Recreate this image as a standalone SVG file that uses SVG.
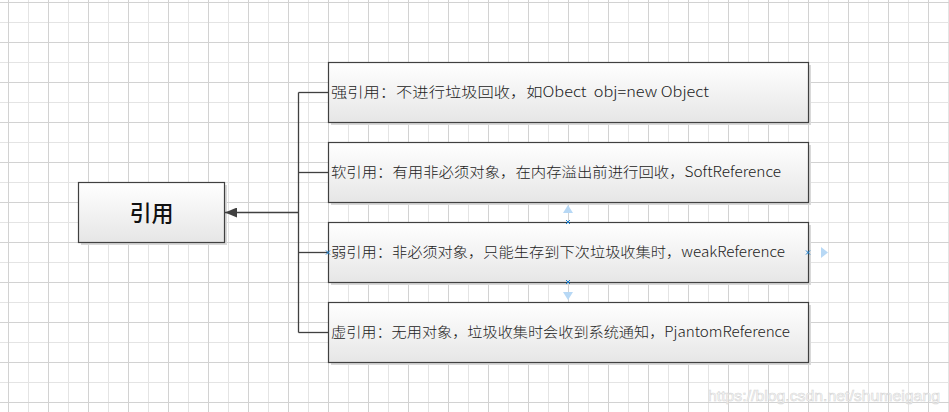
<svg xmlns="http://www.w3.org/2000/svg" width="949" height="412" viewBox="0 0 949 412">
<defs>
<pattern id="grid" x="8" y="2" width="40" height="40" patternUnits="userSpaceOnUse">
<line x1="20.5" y1="0" x2="20.5" y2="40" stroke="#e4e4e4" stroke-width="1"/>
<line x1="0" y1="20.5" x2="40" y2="20.5" stroke="#e4e4e4" stroke-width="1"/>
<line x1="0.5" y1="0" x2="0.5" y2="40" stroke="#d2d2d2" stroke-width="1"/>
<line x1="0" y1="0.5" x2="40" y2="0.5" stroke="#d2d2d2" stroke-width="1"/>
</pattern>
<linearGradient id="fill" x1="0" y1="0" x2="0" y2="1">
<stop offset="0" stop-color="#ffffff"/>
<stop offset="1" stop-color="#e6e6e6"/>
</linearGradient>
<marker id="arrow" viewBox="0 0 12 10" refX="12" refY="5" markerWidth="12" markerHeight="10" markerUnits="userSpaceOnUse" orient="auto">
<path d="M0,0 L12,5 L0,10 z" fill="#404040"/>
</marker>
</defs>
<style>
.box{fill:url(#fill);stroke:#404040;stroke-width:1.2}
.shadow{fill:#d9d9d9}
.lbl{font-family:"Noto Sans CJK SC","Liberation Sans",sans-serif;font-size:14px;font-weight:300;fill:#222;white-space:pre}
.conn{fill:none;stroke:#404040;stroke-width:1.3}
.h{stroke:#1a7fd0;stroke-width:1}
.tri{fill:#b7d8f5}
</style>
<rect width="949" height="412" fill="#ffffff"/>
<rect width="949" height="412" fill="url(#grid)"/>

<g id="node-main">
<rect class="shadow" x="81" y="185" width="146" height="60"/>
<rect class="box" x="78.5" y="182.5" width="146" height="60"/>
<text x="151.5" y="221" text-anchor="middle" font-family="'Noto Sans CJK SC',sans-serif" font-size="22" font-weight="500" fill="#111">引用</text>
</g>

<g id="node-strong">
<rect class="shadow" x="331" y="65" width="480" height="60"/>
<rect class="box" x="328.5" y="62.5" width="480" height="60"/>
<text class="lbl" x="331" y="97" textLength="378" lengthAdjust="spacingAndGlyphs" xml:space="preserve">强引用：不进行垃圾回收，如Obect  obj=new Object</text>
</g>

<g id="node-soft">
<rect class="shadow" x="331" y="145" width="480" height="60"/>
<rect class="box" x="328.5" y="142.5" width="480" height="60"/>
<text class="lbl" x="331" y="177" textLength="450" lengthAdjust="spacingAndGlyphs">软引用：有用非必须对象，在内存溢出前进行回收，SoftReference</text>
</g>

<g id="node-weak">
<rect class="shadow" x="331" y="225" width="480" height="60"/>
<rect class="box" x="328.5" y="222.5" width="480" height="60"/>
<text class="lbl" x="331" y="257" textLength="454" lengthAdjust="spacingAndGlyphs">弱引用：非必须对象，只能生存到下次垃圾收集时，weakReference</text>
</g>

<g id="node-phantom">
<rect class="shadow" x="331" y="305" width="480" height="60"/>
<rect class="box" x="328.5" y="302.5" width="480" height="60"/>
<text class="lbl" x="331" y="337" textLength="459" lengthAdjust="spacingAndGlyphs">虚引用：无用对象，垃圾收集时会收到系统通知，PjantomReference</text>
</g>

<g id="connectors">
<path class="conn" d="M298.5,212.5 L225,212.5" marker-end="url(#arrow)"/>
<path class="conn" d="M298.5,92.5 L298.5,332.5"/>
<path class="conn" d="M298.5,92.5 H328"/>
<path class="conn" d="M298.5,172.5 H328"/>
<path class="conn" d="M298.5,252.5 H328"/>
<path class="conn" d="M298.5,332.5 H328"/>
</g>

<g id="handles">
<path class="tri" d="M563,213 L568,205 L573,213 z"/>
<path class="tri" d="M563,292 L568,300 L573,292 z"/>
<path class="tri" d="M821,247 L828,252.5 L821,258 z"/>
<path class="h" d="M566,220 l4,4 M570,220 l-4,4"/>
<path class="h" d="M566,280 l4,4 M570,280 l-4,4"/>
<path class="h" d="M326,250.5 l4,4 M330,250.5 l-4,4"/>
<path class="h" d="M806,250.5 l4,4 M810,250.5 l-4,4"/>
</g>

<text x="708" y="401" font-family="'Liberation Sans',sans-serif" font-size="15" fill="#ffffff" stroke="#d6d6d6" stroke-width="0.6" textLength="232" lengthAdjust="spacingAndGlyphs">https://blog.csdn.net/shumeigang</text>
</svg>
